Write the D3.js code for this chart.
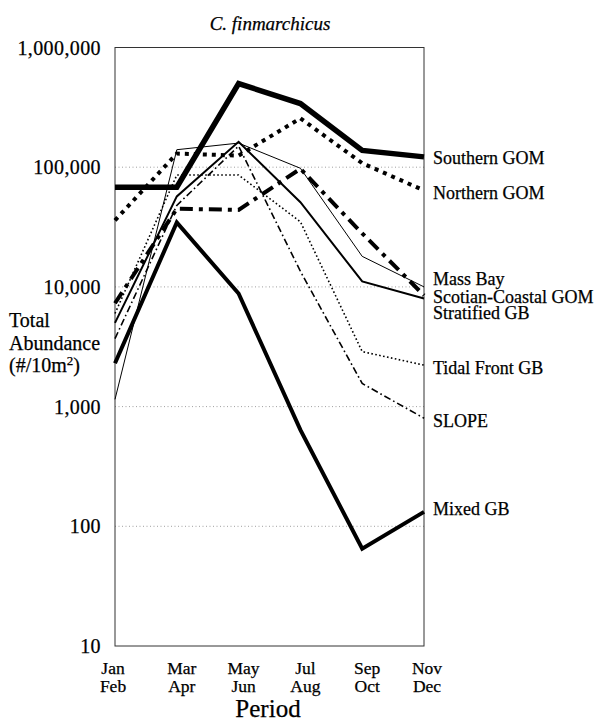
<!DOCTYPE html>
<html>
<head>
<meta charset="utf-8">
<script src="https://cdn.jsdelivr.net/npm/d3@7"></script>
<style>
  body { margin: 0; background: #fff; }
  svg { display: block; font-family: "Liberation Serif", "DejaVu Serif", serif; }
  svg text { stroke: #000; stroke-width: 0.25px; }
</style>
</head>
<body>
<svg id="chart"></svg>
<script>
const w = 608;
const h = 723;

// data
const periods = [["Jan", "Feb"], ["Mar", "Apr"], ["May", "Jun"], ["Jul", "Aug"], ["Sep", "Oct"], ["Nov", "Dec"]];
const yTicks = [10, 100, 1000, 10000, 100000, 1000000];
const gridTicks = [100, 1000, 10000, 100000];

const southernGOM = [68000, 68000, 500000, 340000, 138000, 122000];
const northernGOM = [36000, 130000, 125000, 256000, 108000, 64000];
const massBay = [1150, 140000, 159000, 98000, 18000, 10000];
const scotianGOM = [7300, 45000, 44000, 97000, 28000, 8500];
const stratifiedGB = [5000, 57000, 163000, 51000, 11100, 8000];
const tidalFrontGB = [6000, 86000, 86000, 35000, 2880, 2220];
const slope = [3700, 48000, 150000, 13500, 1560, 800];
const mixedGB = [2300, 34500, 8800, 640, 65, 132];

const series = [
  { name: "Mass Bay", values: massBay, width: 1, dash: null, nudge: -8 },
  { name: "Tidal Front GB", values: tidalFrontGB, width: 1.6, dash: "1.6,2.4", nudge: 3 },
  { name: "SLOPE", values: slope, width: 1.6, dash: "7,3,1.6,3", nudge: 2 },
  { name: "Stratified GB", values: stratifiedGB, width: 2, dash: null, nudge: 14 },
  { name: "Mixed GB", values: mixedGB, width: 4, dash: null, nudge: -3 },
  { name: "Scotian-Coastal GOM", values: scotianGOM, width: 4, dash: "13,6,4,6", nudge: 1 },
  { name: "Northern GOM", values: northernGOM, width: 4, dash: "4,5", nudge: 2 },
  { name: "Southern GOM", values: southernGOM, width: 5.5, dash: null, nudge: 1 }
];

const margin = { left: 115, right: 424, top: 47.5, bottom: 646 };

const svg = d3.select("#chart")
  .attr("width", w)
  .attr("height", h)
  .attr("viewBox", [0, 0, w, h]);

const x = d3.scalePoint()
  .domain(periods.map(p => p.join(" ")))
  .range([margin.left, margin.right]);

const y = d3.scaleLog()
  .domain([10, 1000000])
  .range([margin.bottom, margin.top]);

// grid
svg.append("g")
  .selectAll("line")
  .data(gridTicks)
  .enter()
  .append("line")
  .attr("x1", margin.left)
  .attr("x2", margin.right)
  .attr("y1", d => y(d))
  .attr("y2", d => y(d))
  .attr("stroke", "#888")
  .attr("stroke-width", 0.8)
  .attr("stroke-dasharray", "1,2.5");

// frame
svg.append("rect")
  .attr("x", margin.left)
  .attr("y", margin.top)
  .attr("width", margin.right - margin.left)
  .attr("height", margin.bottom - margin.top)
  .attr("fill", "none")
  .attr("stroke", "#333")
  .attr("stroke-width", 1);

// y tick labels
const fmt = d3.format(",");
svg.append("g")
  .selectAll("text")
  .data(yTicks)
  .enter()
  .append("text")
  .attr("x", 101)
  .attr("y", d => y(d))
  .attr("dy", "0.35em")
  .attr("text-anchor", "end")
  .attr("font-size", 20)
  .attr("letter-spacing", 0.4)
  .text(d => fmt(d));

// x tick labels (two lines)
const xLab = svg.append("g")
  .selectAll("text")
  .data(periods)
  .enter()
  .append("text")
  .attr("text-anchor", "middle")
  .attr("font-size", 17.5);
xLab.append("tspan")
  .attr("x", (d, i) => x(d.join(" ")) + (i === 0 ? -2 : i === 5 ? 3 : 5))
  .attr("y", 674)
  .text(d => d[0]);
xLab.append("tspan")
  .attr("x", (d, i) => x(d.join(" ")) + (i === 0 ? -2 : i === 5 ? 3 : 5))
  .attr("y", 692)
  .text(d => d[1]);

svg.append("text")
  .attr("x", 268)
  .attr("y", 717)
  .attr("text-anchor", "middle")
  .attr("font-size", 25)
  .text("Period");

svg.append("text")
  .attr("x", 270)
  .attr("y", 30)
  .attr("text-anchor", "middle")
  .attr("font-size", 19)
  .attr("font-style", "italic")
  .text("C. finmarchicus");

// y axis title
const yTitle = svg.append("text")
  .attr("font-size", 20);
yTitle.append("tspan").attr("x", 9).attr("y", 327).text("Total");
yTitle.append("tspan").attr("x", 9).attr("y", 350).text("Abundance");
const unit = yTitle.append("tspan").attr("x", 9).attr("y", 372);
unit.append("tspan").text("(#/10m");
unit.append("tspan").attr("font-size", 13).attr("dy", -7).text("2");
unit.append("tspan").attr("dy", 7).text(")");

// lines
const line = d3.line()
  .x((d, i) => x(periods[i].join(" ")))
  .y(d => y(d));

svg.append("g")
  .selectAll("path")
  .data(series)
  .enter()
  .append("path")
  .attr("d", d => line(d.values))
  .attr("fill", "none")
  .attr("stroke", "#000")
  .attr("stroke-width", d => d.width)
  .attr("stroke-dasharray", d => d.dash)
  .attr("stroke-linejoin", "miter")
  .attr("stroke-linecap", "butt");

// end labels
svg.append("g")
  .selectAll("text")
  .data(series)
  .enter()
  .append("text")
  .attr("x", 433)
  .attr("y", d => y(d.values[d.values.length - 1]) + d.nudge)
  .attr("dy", "0.35em")
  .attr("font-size", 18)
  .text(d => d.name);
</script>
</body>
</html>
